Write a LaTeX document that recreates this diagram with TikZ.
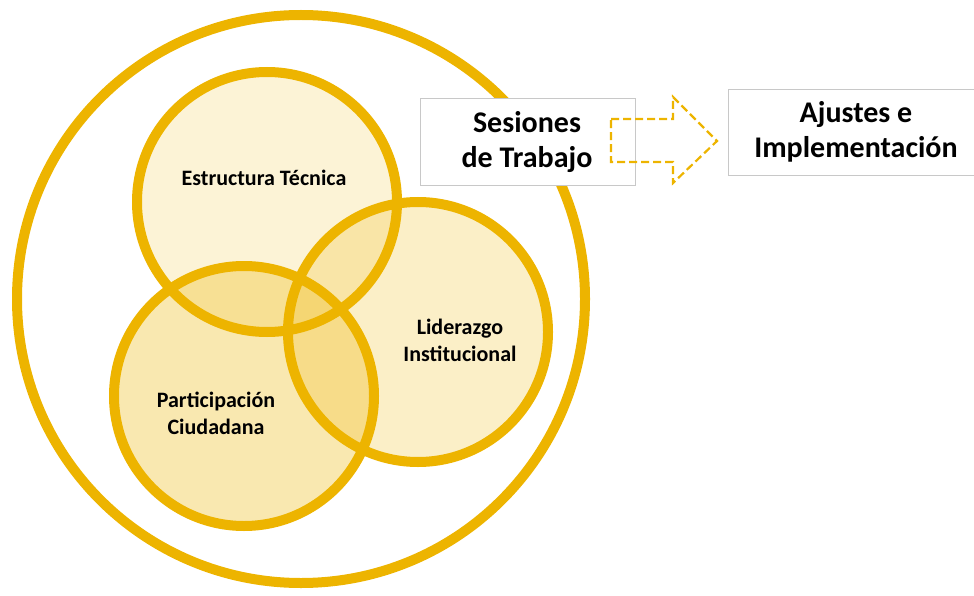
\documentclass[tikz,border=0pt]{standalone}
\usepackage{fontspec}
\setmainfont{Carlito}
\definecolor{oro}{RGB}{237,180,0}
\definecolor{borde}{RGB}{200,200,200}
\begin{document}
\begin{tikzpicture}[x=1pt, y=-1pt,
		anillo/.style={draw=oro, line width=10pt},
		etiqueta/.style={font=\fontsize{22}{27}\selectfont\bfseries, align=center},
		caja/.style={draw=borde, line width=0.8pt, fill=white},
		titulo/.style={font=\fontsize{30}{35}\selectfont\bfseries, align=center}]
		\useasboundingbox (0, 0) rectangle (974, 596);
		% circulo exterior
		\draw[anillo] (301, 299) circle[radius=284];
		% rellenos
		\fill[oro, fill opacity=0.16] (267, 202) circle[radius=130];
		\fill[oro, fill opacity=0.22] (418, 332) circle[radius=130];
		\fill[oro, fill opacity=0.31] (244, 396) circle[radius=130];
		\draw[anillo] (267, 202) circle[radius=130];
		\draw[anillo] (418, 332) circle[radius=130];
		\draw[anillo] (244, 396) circle[radius=130];
		\node[etiqueta] (tecnica) at (264, 178) {Estructura Técnica};
		\node[etiqueta] (liderazgo) at (460, 340) {Liderazgo\\Institucional};
		\node[etiqueta] (participacion) at (216, 413) {Participación\\Ciudadana};
		% cajas
		\draw[caja] (420, 98) rectangle (635, 185);
		\node[titulo] (sesiones) at (527, 142) {Sesiones\\de Trabajo};
		\draw[caja] (728, 89) rectangle (990, 175);
		\node[titulo] (ajustes) at (856, 132) {Ajustes e\\Implementación};
		% flecha
		\draw[oro, line width=2.2pt, dash pattern=on 8pt off 4pt, line join=miter]
			(611, 119) -- (673, 119) -- (673, 97) -- (717, 141) -- (673, 183)
			-- (673, 162) -- (611, 162) -- cycle;
	\end{tikzpicture}
\end{document}
